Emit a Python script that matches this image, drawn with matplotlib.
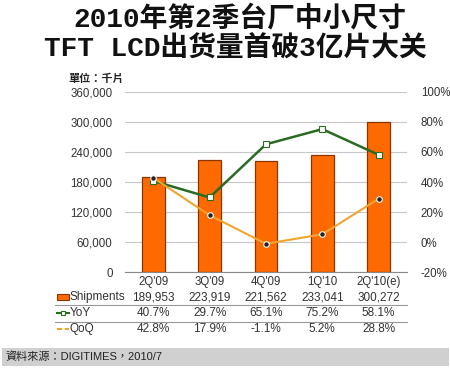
import numpy as np
import matplotlib
matplotlib.use("Agg")
import matplotlib.pyplot as plt
from matplotlib.patches import Rectangle
from matplotlib.lines import Line2D
from matplotlib.transforms import blended_transform_factory

plt.rcParams["font.family"] = ["Liberation Sans", "Noto Sans CJK TC"]

# data
quarters = ["2Q'09", "3Q'09", "4Q'09", "1Q'10", "2Q'10(e)"]
shipments = [189953, 223919, 221562, 233041, 300272]
yoy = [40.7, 29.7, 65.1, 75.2, 58.1]
qoq = [42.8, 17.9, -1.1, 5.2, 28.8]

bar_color = "#FF6A00"
bar_edge = "#8A3400"
yoy_color = "#2A6B24"
qoq_color = "#EFA52E"
text_color = "#333333"
grid_color = "#C8C8C8"

fig = plt.figure(figsize=(4.5, 3.78), dpi=100)
ax = fig.add_axes([0.278, 0.280, 0.626, 0.477])
x = np.arange(len(quarters))

ax.bar(x, shipments, 0.40, color=bar_color, edgecolor=bar_edge, linewidth=0.9, zorder=2)
ax.set_xlim(-0.5, len(quarters) - 0.5)
ax.set_ylim(0, 360000)
ax.set_yticks(np.arange(0, 360001, 60000))
ax.set_yticklabels([f"{v:,}" for v in range(0, 360001, 60000)])
ax.set_xticks(x)
ax.set_xticklabels(quarters)
ax.grid(axis="y", color=grid_color, linewidth=0.8, zorder=0)
for s in ["top", "left", "right"]:
    ax.spines[s].set_visible(False)
ax.spines["bottom"].set_color("#888888")
ax.tick_params(axis="both", length=0, labelsize=8.3, colors=text_color)
ax.tick_params(axis="y", pad=9)
ax.tick_params(axis="x", pad=3)

ax2 = ax.twinx()
ax2.set_ylim(-20, 100)
ax2.set_yticks(np.arange(-20, 101, 20))
ax2.set_yticklabels([f"{v}%" for v in range(-20, 101, 20)])
for s in ax2.spines.values():
    s.set_visible(False)
ax2.tick_params(axis="y", length=0, labelsize=8.3, colors=text_color, pad=10)

ax2.plot(x, yoy, color=yoy_color, linewidth=1.8, marker="s", markersize=4.5,
         markerfacecolor="white", markeredgecolor=yoy_color, markeredgewidth=0.8, zorder=4)
ax2.plot(x, qoq, color=qoq_color, linewidth=1.5, marker="o", markersize=4,
         markerfacecolor="#222222", markeredgecolor="white", markeredgewidth=0.8, zorder=4)

# table under chart
tr = blended_transform_factory(ax.transData, fig.transFigure)
row_y = [1 - 297 / 378, 1 - 313 / 378, 1 - 329 / 378]
rows = [[f"{v:,}" for v in shipments], [f"{v}%" for v in yoy], [f"{v}%" for v in qoq]]
for ry, vals in zip(row_y, rows):
    for xi, s in zip(x, vals):
        ax.text(xi, ry, s, transform=tr, ha="center", va="center", fontsize=8.5,
                color=text_color, clip_on=False)
for ly in [1 - 305 / 378, 1 - 322 / 378]:
    fig.add_artist(Line2D([55 / 450, 407 / 450], [ly, ly], color="#999999", linewidth=0.8))

labels = ["Shipments", "YoY", "QoQ"]
for ry, lab in zip(row_y, labels):
    fig.text(70 / 450, ry, lab, ha="left", va="center", fontsize=8.5, color=text_color)
fig.add_artist(Rectangle((57 / 450, row_y[0] - 0.007), 12 / 450, 0.014,
                         facecolor=bar_color, edgecolor=bar_edge, linewidth=0.8))
fig.add_artist(Line2D([57 / 450, 69 / 450], [row_y[1]] * 2, color=yoy_color, linewidth=1.5))
fig.add_artist(Line2D([63 / 450], [row_y[1]], marker="s", markersize=3.5, color=yoy_color,
                      markerfacecolor="white", markeredgewidth=0.8))
fig.add_artist(Line2D([57 / 450, 69 / 450], [row_y[2]] * 2, color=qoq_color, linewidth=1.5,
                      linestyle=(0, (2.5, 1.2))))

# unit label
fig.text(68 / 450, 1 - 78 / 378, "單位：千片", fontsize=8, fontweight="bold",
         color="#222222", ha="left", va="center", family=["Noto Sans CJK TC"])

# footer band
fig.add_artist(Rectangle((2 / 450, 1 - 366 / 378), 447 / 450, 18 / 378,
                         facecolor="#D0D0D0", edgecolor="none"))
fig.text(5 / 450, 1 - 357 / 378, "資料來源：DIGITIMES，2010/7", fontsize=8,
         color="#222222", ha="left", va="center",
         family=["Liberation Sans", "Noto Sans CJK TC"])

# title
title_fam = ["Liberation Mono", "Noto Sans CJK SC"]
fig.text(240 / 450, 1 - 19 / 378, "2010年第2季台厂中小尺寸", fontsize=20, fontweight="bold",
         ha="center", va="center", family=title_fam, color="#111111")
fig.text(235 / 450, 1 - 49 / 378, "TFT LCD出货量首破3亿片大关", fontsize=20, fontweight="bold",
         ha="center", va="center", family=title_fam, color="#111111")

fig.savefig("out.png", dpi=100)
